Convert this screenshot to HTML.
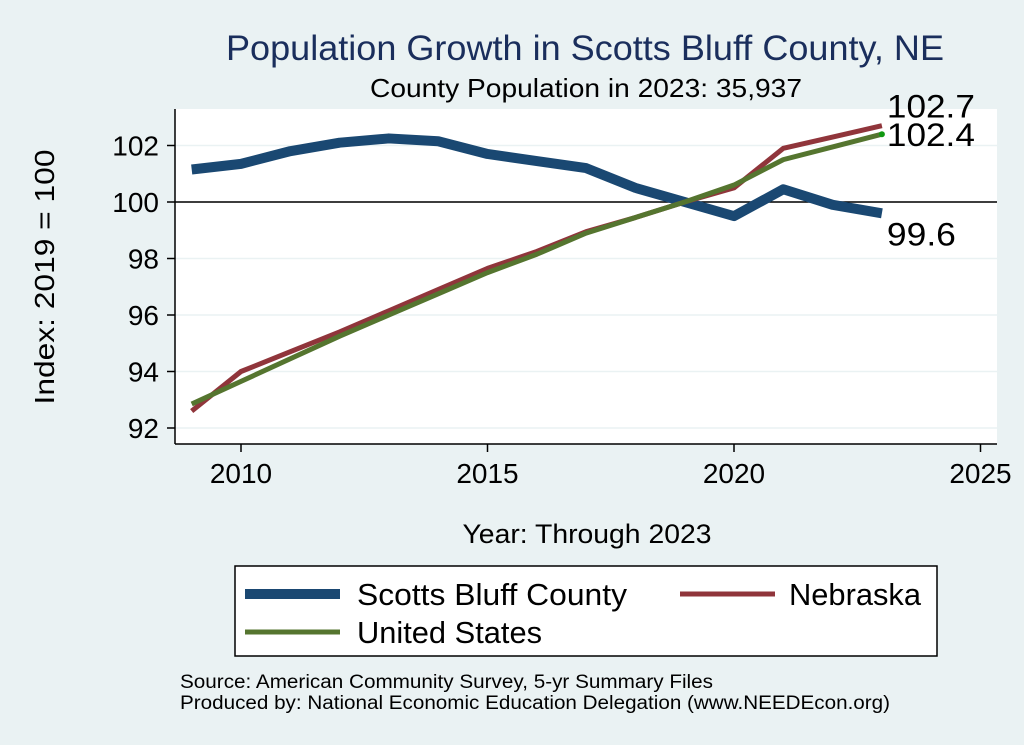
<!DOCTYPE html>
<html><head><meta charset="utf-8"><style>
body{margin:0;background:#eaf2f3;font-family:"Liberation Sans",sans-serif;}
svg{display:block}
</style></head><body>
<svg width="1024" height="745" xmlns="http://www.w3.org/2000/svg">
<rect x="0" y="0" width="1024" height="745" fill="#eaf2f3"/>
<text x="585" y="60" font-size="35" fill="#1a2e5c" text-anchor="middle" textLength="718" lengthAdjust="spacingAndGlyphs">Population Growth in Scotts Bluff County, NE</text>
<text x="586" y="97" font-size="26" fill="#000" text-anchor="middle" textLength="432" lengthAdjust="spacingAndGlyphs">County Population in 2023: 35,937</text>
<rect x="175" y="109" width="822" height="335" fill="#fff"/>
<g id="grid"></g>
<g id="axes"></g>
<g id="series"></g>
<text x="54" y="277" font-size="28" text-anchor="middle" transform="rotate(-90 54 277)" textLength="255" lengthAdjust="spacingAndGlyphs">Index: 2019 = 100</text>
<text x="587" y="543" font-size="27" text-anchor="middle" textLength="249" lengthAdjust="spacingAndGlyphs">Year: Through 2023</text>
<g>
<rect x="235" y="566" width="702" height="90" fill="#fff" stroke="#000" stroke-width="1.5"/>
<g><line x1="245" y1="594" x2="340" y2="594" stroke="#1a4872" stroke-width="10"/><text x="357" y="605" font-size="31" textLength="270" lengthAdjust="spacingAndGlyphs">Scotts Bluff  County</text></g>
<g><line x1="680" y1="594" x2="775" y2="594" stroke="#90353b" stroke-width="5"/><text x="789" y="605" font-size="31" textLength="132" lengthAdjust="spacingAndGlyphs">Nebraska</text></g>
<g><line x1="245" y1="632" x2="340" y2="632" stroke="#55752f" stroke-width="5"/><text x="357" y="643" font-size="31" textLength="185" lengthAdjust="spacingAndGlyphs">United States</text></g>
</g>
<text x="180" y="688" font-size="19" textLength="533" lengthAdjust="spacingAndGlyphs">Source: American Community Survey, 5-yr Summary Files</text>
<text x="180" y="709" font-size="19" textLength="710" lengthAdjust="spacingAndGlyphs">Produced by: National Economic Education Delegation (www.NEEDEcon.org)</text>
</svg>
<script>
const years=[2009,2010,2011,2012,2013,2014,2015,2016,2017,2018,2019,2020,2021,2022,2023];
const county=[101.15,101.35,101.8,102.1,102.25,102.15,101.7,101.45,101.2,100.5,100,99.5,100.45,99.9,99.6];
const nebraska=[92.6,94.0,94.7,95.4,96.15,96.9,97.65,98.25,98.95,99.45,100,100.5,101.9,102.3,102.7];
const usa=[92.85,93.65,94.45,95.25,96.0,96.75,97.5,98.15,98.9,99.45,100,100.6,101.5,101.95,102.4];
const yTicks=[92,94,96,98,100,102];
const xTicks=[2010,2015,2020,2025];
const NS="http://www.w3.org/2000/svg";
function X(v){return 241+(v-2010)*49.3;}
function Y(v){return 202-(v-100)*28.25;}
function mk(tag,attrs,parent,txt){const e=document.createElementNS(NS,tag);for(const k in attrs)e.setAttribute(k,attrs[k]);if(txt!==undefined)e.textContent=txt;document.getElementById(parent).appendChild(e);return e;}
yTicks.forEach(t=>{
 let g=mk('line',{x1:175,x2:997,y1:Y(t),y2:Y(t),stroke:'#eaf2f3','stroke-width':1.5},'grid');
 
 
 let tk=mk('line',{x1:167,x2:175,y1:Y(t),y2:Y(t),stroke:'#000','stroke-width':1.5},'axes');
 
 
 let l=mk('text',{x:159,y:Y(t)+10,'font-size':28,'text-anchor':'end'},'axes',t);
 
 
});
let ref=mk('line',{x1:175,x2:997,y1:Y(100),y2:Y(100),stroke:'#000','stroke-width':1.5},'grid');


xTicks.forEach(t=>{
 let tk=mk('line',{x1:X(t),x2:X(t),y1:444,y2:452,stroke:'#000','stroke-width':1.5},'axes');
 
 
 let l=mk('text',{x:X(t),y:483,'font-size':28,'text-anchor':'middle'},'axes',t);
 
 
});
let ya=mk('line',{x1:175,x2:175,y1:109,y2:444,stroke:'#000','stroke-width':1.5},'axes');


let xa=mk('line',{x1:175,x2:997,y1:444,y2:444,stroke:'#000','stroke-width':1.5},'axes');


function line(vals,color,w,name){
 const p=mk('polyline',{points:vals.map((v,i)=>X(years[i])+','+Y(v)).join(' '),fill:'none',stroke:color,'stroke-width':w,'stroke-linejoin':'round'},'series');
 
 
}
line(county,'#1a4872',10,'line-county');
line(nebraska,'#90353b',5,'line-nebraska');
line(usa,'#55752f',5,'line-us');
const n=years.length-1;
let dot=mk('circle',{cx:X(years[n]),cy:Y(usa[n]),r:3,fill:'#119911'},'series');


let lx=X(years[n])+5;
let a=mk('text',{x:lx,y:Y(nebraska[n])-8,'font-size':32,textLength:88,lengthAdjust:'spacingAndGlyphs'},'series',nebraska[n].toFixed(1));


let b=mk('text',{x:lx,y:Y(usa[n])+12,'font-size':32,textLength:88,lengthAdjust:'spacingAndGlyphs'},'series',usa[n].toFixed(1));


let c=mk('text',{x:lx,y:Y(county[n])+32,'font-size':32,textLength:69,lengthAdjust:'spacingAndGlyphs'},'series',county[n].toFixed(1));


</script>
</body></html>
